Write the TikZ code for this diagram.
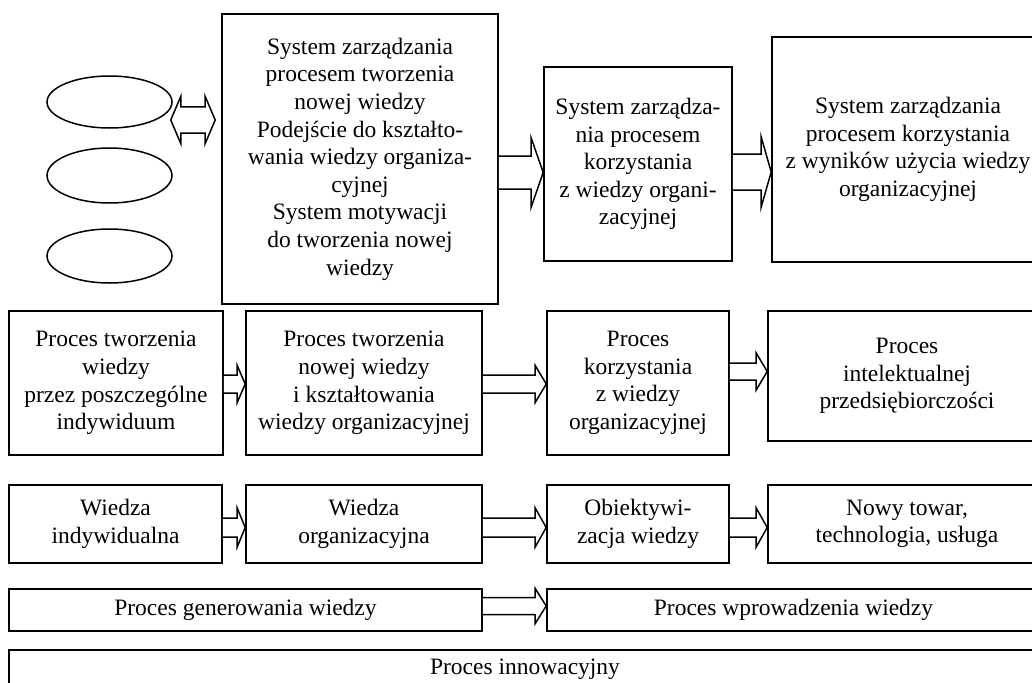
\documentclass[tikz,border=0pt]{standalone}
\usepackage{fontspec}
\setmainfont{Liberation Serif}
\usetikzlibrary{calc,shapes.geometric}
\begin{document}
\begin{tikzpicture}[x=1pt,y=-1pt,
  box/.style={draw, line width=1.6pt, rectangle, inner sep=0pt, align=center,
    font=\fontsize{23.5}{27.6}\selectfont},
  oval/.style={draw, line width=1.5pt, ellipse, inner sep=0pt},
  fat/.style={draw, line width=1.5pt, line join=miter, fill=white}]
\useasboundingbox (0,0) rectangle (1032,682);
\fill[white] (0,0) rectangle (1032,682);
\newcommand\bx[6]{\node[box, minimum width=#4pt, minimum height=#5pt] (#1) at (#2,#3) {#6};}
\newcommand\barrow[6]{%
  \draw[fat] let \p1=(#1.east), \p2=(#2.west), \p3=(0,#3) in
   (\x1,\y3+#4pt) -- (\x2-#6pt,\y3+#4pt) -- (\x2-#6pt,\y3+#5pt) -- (\x2,\y3)
   -- (\x2-#6pt,\y3-#5pt) -- (\x2-#6pt,\y3-#4pt) -- (\x1,\y3-#4pt);}
% ellipses
\node[oval, minimum width=125pt, minimum height=52pt] (e1) at (109.5,102) {};
\node[oval, minimum width=125pt, minimum height=55pt] (e2) at (109.5,175.5) {};
\node[oval, minimum width=125pt, minimum height=54pt] (e3) at (109.5,256) {};
% top row
\bx{b1}{360}{159}{276}{290}{System zarządzania\\procesem tworzenia\\nowej wiedzy\\Podejście do kształto-\\wania wiedzy organiza-\\cyjnej\\System motywacji\\do tworzenia nowej\\wiedzy}
\bx{b2}{638}{164}{188}{194}{System zarządza-\\nia procesem\\korzystania\\z wiedzy organi-\\zacyjnej}
\bx{b3}{908}{149.5}{272}{225}{System zarządzania\\procesem korzystania\\z wyników użycia wiedzy\\organizacyjnej}
% second row
\bx{pa}{116}{383}{214}{144}{Proces tworzenia\\wiedzy\\przez poszczególne\\indywiduum}
\bx{pb}{364}{383}{236}{144}{Proces tworzenia\\nowej wiedzy\\i kształtowania\\wiedzy organizacyjnej}
\bx{pc}{638}{383}{182}{144}{Proces\\korzystania\\z wiedzy\\organizacyjnej}
\bx{pd}{907}{376}{278}{130}{Proces\\intelektualnej\\przedsiębiorczości}
% third row
\bx{wa}{115.5}{524}{213}{78}{Wiedza\\indywidualna}
\bx{wb}{364}{524}{236}{78}{Wiedza\\organizacyjna}
\bx{wc}{638}{524}{182}{78}{Obiektywi-\\zacja wiedzy}
\bx{wd}{907}{524}{278}{78}{Nowy towar,\\technologia, usługa}
% fourth row
\bx{ga}{245.5}{610}{473}{42}{Proces generowania wiedzy}
\bx{gb}{793.5}{610}{493}{42}{Proces wprowadzenia wiedzy}
% bottom
\bx{inn}{525}{669.5}{1032}{39}{Proces innowacyjny}
% arrows
\draw[fat] let \p1=(e1.east), \p2=(b1.west), \p3=(0,120) in
  (\x1-2pt,\y3) -- (\x1+8pt,\y3+23.5pt) -- (\x1+8pt,\y3+13pt) -- (\x2-16pt,\y3+13pt)
  -- (\x2-16pt,\y3+23.5pt) -- (\x2-6pt,\y3) -- (\x2-16pt,\y3-23.5pt) -- (\x2-16pt,\y3-13pt)
  -- (\x1+8pt,\y3-13pt) -- (\x1+8pt,\y3-23.5pt) -- cycle;
\barrow{b1}{b2}{172.5}{16.5}{34.5}{12}
\barrow{b2}{b3}{172}{18}{35}{10}
\barrow{pa}{pb}{384}{9}{18.5}{8}
\barrow{pb}{pc}{384}{9}{18.5}{11}
\barrow{pc}{pd}{371.5}{8.5}{18.5}{11}
\barrow{wa}{wb}{527.5}{9.5}{19.5}{8}
\barrow{wb}{wc}{527.5}{9.5}{19.5}{11}
\barrow{wc}{wd}{527.5}{9.5}{19.5}{11}
\barrow{ga}{gb}{606}{8.5}{17.5}{11}
\end{tikzpicture}
\end{document}
